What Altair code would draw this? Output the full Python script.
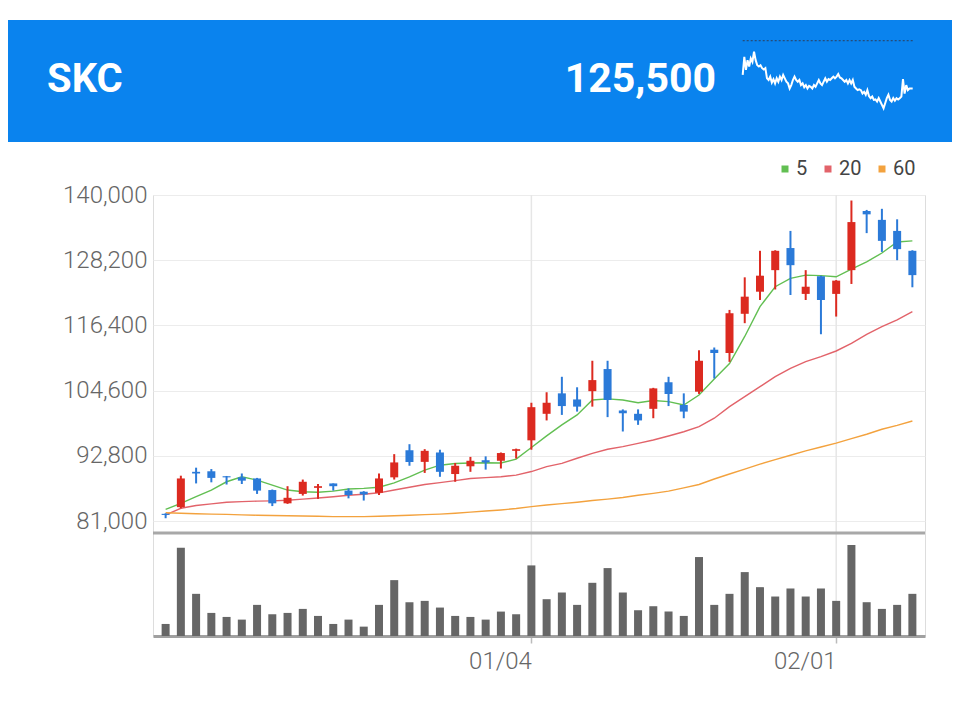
import altair as alt
import pandas as pd

# ---------------- data ----------------
name = "SKC"
dates = ["11/26", "11/27", "11/30", "12/01", "12/02", "12/03", "12/04", "12/07", "12/08", "12/09",
         "12/10", "12/11", "12/14", "12/15", "12/16", "12/17", "12/18", "12/21", "12/22", "12/23",
         "12/24", "12/28", "12/29", "12/30", "01/04", "01/05", "01/06", "01/07", "01/08", "01/11",
         "01/12", "01/13", "01/14", "01/15", "01/18", "01/19", "01/20", "01/21", "01/22", "01/25",
         "01/26", "01/27", "01/28", "01/29", "02/01", "02/02", "02/03", "02/04", "02/05", "02/08"]
opens = [82300, 83500, 89900, 90000, 89100, 88900, 88700, 86600, 84200, 85900,
         87000, 87800, 86500, 86300, 86100, 88900, 93800, 91700, 93400, 89500,
         90900, 92000, 91900, 93700, 95600, 100400, 104100, 103000, 104500, 108500,
         101000, 100400, 101300, 106100, 102000, 104400, 112000, 111400, 118500, 122500,
         126400, 130400, 122100, 125300, 122100, 126400, 137100, 135500, 133500, 129900]
highs = [82400, 89200, 90650, 90400, 89150, 89600, 88800, 86700, 87300, 88500,
         87700, 87800, 86900, 86400, 89600, 93100, 94900, 94000, 93900, 91500,
         92600, 92700, 93400, 94100, 102400, 104300, 107100, 105200, 110000, 110000,
         101200, 101200, 105100, 107100, 104100, 111900, 112400, 119200, 125100, 129900,
         130000, 133500, 126400, 125400, 124600, 139000, 137300, 137500, 135600, 130000]
lows = [81500, 83300, 87800, 88000, 87600, 87700, 85900, 83700, 84100, 85600,
        85000, 86500, 85100, 84700, 85700, 88500, 91000, 89700, 89000, 88100,
        89900, 90300, 90500, 92300, 93900, 99200, 100200, 100800, 101700, 99800,
        97200, 98400, 99600, 101800, 99600, 104000, 106800, 109800, 116800, 121000,
        122900, 121900, 121000, 114800, 118000, 123900, 133100, 129700, 128200, 123300]
closes = [82100, 88700, 89600, 88800, 88900, 88300, 86500, 84200, 85200, 88100,
          87300, 87300, 85700, 85800, 88700, 91600, 91700, 93700, 89900, 91000,
          91900, 91600, 93300, 94000, 101600, 102400, 101800, 101700, 106500, 102900,
          100500, 99200, 105000, 104000, 100800, 110000, 111400, 118600, 121600, 125400,
          129900, 127300, 123400, 121000, 124500, 135100, 136500, 131700, 130200, 125500]
volumes = [360, 2640, 1260, 690, 570, 490, 930, 650, 690, 810,
           600, 360, 490, 280, 930, 1670, 1010, 1050, 850, 600,
           570, 490, 730, 650, 2110, 1100, 1300, 930, 1590, 2030,
           1300, 770, 890, 730, 600, 2360, 930, 1260, 1910, 1460,
           1180, 1420, 1180, 1420, 1050, 2720, 1010, 810, 930, 1260]
ma5 = [83100, 84200, 85400, 86600, 88100, 89000, 88400, 87500, 86600, 86300,
       86200, 86400, 86800, 86900, 87100, 87900, 89000, 90200, 91100, 91400,
       91500, 91550, 91500, 92200, 94300, 96400, 98400, 100200, 102900, 103100,
       102900, 102400, 102800, 102600, 102000, 103800, 106700, 109500, 114400, 119800,
       123400, 124900, 125500, 125400, 125200, 126600, 127900, 129500, 131500, 131700]
ma20 = [82100, 83300, 83800, 84100, 84400, 84500, 84600, 84650, 84750, 84950,
        85150, 85400, 85650, 85850, 86100, 86600, 87100, 87600, 87950, 88300,
        88700, 88850, 89000, 89300, 89950, 90830, 91440, 92350, 93250, 93980,
        94450, 95060, 95660, 96390, 97160, 98070, 99600, 101690, 103500, 105310,
        107120, 108640, 109830, 110740, 111770, 113160, 114790, 116170, 117380, 118880]
ma60 = [82500, 82400, 82300, 82250, 82200, 82100, 82050, 82000, 81950, 81900,
        81850, 81800, 81800, 81800, 81850, 81950, 82050, 82150, 82250, 82400,
        82600, 82800, 83000, 83250, 83600, 83900, 84150, 84400, 84700, 84950,
        85250, 85650, 86000, 86400, 87000, 87600, 88600, 89500, 90400, 91300,
        92100, 92900, 93700, 94400, 95100, 95900, 96700, 97600, 98300, 99100]
ma_names = ["5", "20", "60"]
ma_colors = ["#62bf52", "#e2636a", "#f3a23e"]
y_ticks = [81000, 92800, 104600, 116400, 128200, 140000]
x_tick_idx = [24, 44]

spark = [127250, 129400, 127850, 129000, 128250, 129200, 128800, 130000, 129000, 128400,
         128250, 128400, 128050, 127900, 128050, 126850, 126650, 127050, 126350, 126750,
         126250, 126850, 126450, 127050, 126650, 127250, 126850, 126450, 126250, 125650,
         126050, 126650, 127050, 126650, 126450, 126650, 126050, 126250, 125800, 126050,
         125650, 125950, 125850, 125650, 126050, 125850, 126250, 126650, 126250, 126050,
         126450, 126850, 126450, 126750, 126650, 126850, 127050, 126850, 127050, 127350,
         126950, 126850, 126650, 126450, 126650, 126250, 126650, 126250, 126650, 125850,
         125650, 125450, 125550, 125450, 125050, 125250, 124900, 125450, 124750, 124500,
         124700, 124300, 124350, 124100, 124500, 124100, 123700, 123300, 123900, 124500,
         124900, 124300, 124100, 124500, 124200, 124500, 124350, 124500, 124700, 126750,
         125050, 126050, 125450, 125650, 125650, 125650]
spark_ref = 131300

# ---------------- styles ----------------
BLUE_BAND = "#0a83ee"
UP = "#dc2a20"
DOWN = "#2b7ad8"
FONT = "Roboto"
W, H = 772, 441

df = pd.DataFrame({"i": list(range(len(dates))), "date": dates, "open": opens, "high": highs,
                   "low": lows, "close": closes, "vol": volumes})
ma_df = pd.concat([
    pd.DataFrame({"i": list(range(len(dates))), "series": n, "value": v})
    for n, v in zip(ma_names, [ma5, ma20, ma60])
])
spark_df = pd.DataFrame({"k": list(range(len(spark))), "p": spark})
ref_df = pd.DataFrame({"x0": [0], "x1": [len(spark) - 1], "ref": [spark_ref]})
grid_df = pd.DataFrame({"i": x_tick_idx})
one = pd.DataFrame({"a": [0]})

label_expr = " : ".join(
    f"datum.value == {k} ? '{dates[k]}'" for k in x_tick_idx
) + " : ''"

x_scale = alt.Scale(domain=[-0.5, len(dates) - 0.5], nice=False, zero=False)
price_scale = alt.Scale(domain=[y_ticks[0], y_ticks[-1]], range=[326, 0], nice=False, zero=False)

x_axis = alt.Axis(values=x_tick_idx, labelExpr=label_expr, labelFont=FONT, labelFontSize=24,
                  labelFontWeight=300, labelColor="#666666", labelAlign="right", labelBaseline="top",
                  labelPadding=6, tickSize=7, tickColor="#bbbbbb", tickWidth=1.5,
                  domainColor="#a0a0a0", domainWidth=3, grid=False, title=None)
y_axis = alt.Axis(values=y_ticks, format=",d", labelExpr="format(datum.value, ',')",
                  labelFont=FONT, labelFontSize=24, labelFontWeight=300,
                  labelColor="#666666", labelPadding=6, ticks=False, domain=False, grid=True,
                  gridColor="#ececec", gridWidth=1.2, title=None)

candle_color = alt.condition("datum.close >= datum.open", alt.value(UP), alt.value(DOWN))

vgrid = alt.Chart(grid_df).mark_rule(color="#e6e6e6", strokeWidth=1.5).encode(
    x=alt.X("i:Q", scale=x_scale, axis=x_axis),
    y=alt.value(0), y2=alt.value(H),
)
lines = alt.Chart(ma_df).mark_line(strokeWidth=1.4).encode(
    x=alt.X("i:Q", scale=x_scale, axis=x_axis),
    y=alt.Y("value:Q", scale=price_scale, axis=y_axis),
    color=alt.Color("series:N", scale=alt.Scale(domain=ma_names, range=ma_colors),
                    legend=alt.Legend(orient="none", legendX=622, legendY=-36, direction="horizontal",
                                      title=None, symbolType="square", symbolSize=9,
                                      symbolStrokeWidth=4, labelFont=FONT, labelFontSize=20,
                                      labelColor="#444444", labelOffset=1, columnPadding=10,
                                      padding=0)),
)
wicks = alt.Chart(df).mark_rule(strokeWidth=2).encode(
    x=alt.X("i:Q", scale=x_scale, axis=x_axis),
    y=alt.Y("low:Q", scale=price_scale, axis=y_axis),
    y2="high:Q",
    color=candle_color,
)
bodies = alt.Chart(df).mark_bar(size=8).encode(
    x=alt.X("i:Q", scale=x_scale, axis=x_axis),
    y=alt.Y("open:Q", scale=price_scale, axis=y_axis),
    y2="close:Q",
    color=candle_color,
)
price = alt.layer(lines, wicks, bodies)

vol = alt.Chart(df).mark_bar(size=8, color="#666666").encode(
    x=alt.X("i:Q", scale=x_scale, axis=x_axis),
    y=alt.Y("vol:Q", scale=alt.Scale(domain=[0, max(volumes)], range=[H, 350], nice=False, zero=True),
            axis=None),
)
main = alt.layer(vgrid, price, vol).resolve_scale(y="independent")

separator = alt.Chart(one).mark_rule(color="#a8a8a8", strokeWidth=3).encode(
    x=alt.value(0), x2=alt.value(W), y=alt.value(338))

banner = alt.Chart(one).mark_rect(color=BLUE_BAND).encode(
    x=alt.value(-145), x2=alt.value(W + 27), y=alt.value(-175), y2=alt.value(-53))
name_text = alt.Chart(one).mark_text(font=FONT, fontSize=40, fontWeight="bold", color="white",
                                     align="left", baseline="alphabetic").encode(
    x=alt.value(-106), y=alt.value(-103), text=alt.value(name))
price_text = alt.Chart(one).mark_text(font=FONT, fontSize=41, fontWeight="bold", color="white",
                                      align="right", baseline="alphabetic").encode(
    x=alt.value(563), y=alt.value(-103), text=alt.value(f"{closes[-1]:,}"))

spark_x = alt.Scale(domain=[0, len(spark) - 1], range=[589.7, 759.7], nice=False, zero=False)
spark_y = alt.Scale(domain=[lows[-1], highs[-1]], range=[-86.7, -143.3], nice=False, zero=False)
spark_line = alt.Chart(spark_df).mark_line(color="white", strokeWidth=2).encode(
    x=alt.X("k:Q", scale=spark_x, axis=None),
    y=alt.Y("p:Q", scale=spark_y, axis=None),
)
spark_ref_rule = alt.Chart(ref_df).mark_rule(color="#2c3e5a", strokeDash=[2, 2], strokeWidth=1).encode(
    x=alt.X("x0:Q", scale=spark_x, axis=None),
    x2="x1:Q",
    y=alt.Y("ref:Q", scale=spark_y, axis=None),
)
spark_layer = alt.layer(spark_line, spark_ref_rule)

chart = alt.layer(banner, name_text, price_text, spark_layer, main, separator).resolve_scale(
    x="independent", y="independent"
).properties(
    width=W, height=H, padding={"left": 0, "top": 12, "right": 0, "bottom": 0}
).configure_view(stroke=None).configure(font=FONT)

chart.save("out.html", embed_options={"renderer": "svg", "actions": False})
